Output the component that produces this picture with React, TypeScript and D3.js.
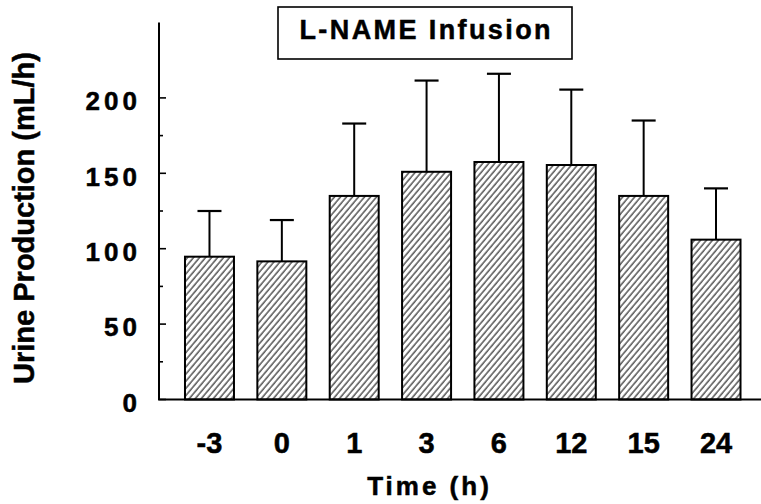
import React, { useEffect, useRef } from 'react';
import * as d3 from 'd3';

// time points (h) and mean urine production (mL/h) with upper error
const timeLabels = ['-3', '0', '1', '3', '6', '12', '15', '24'];
const meanValues = [94.7, 91.6, 135, 151, 157.5, 155.5, 135, 106];
const errorTops = [125, 119, 183, 211.5, 216, 205.5, 185, 140];
const majorTicks = [0, 50, 100, 150, 200];
const minorTicks = [25, 75, 125, 175];

const FONT = '"Liberation Sans", Arial, Helvetica, sans-serif';

const App: React.FC = () => {
  const svgRef = useRef<SVGSVGElement>(null);

  useEffect(() => {
    if (!svgRef.current) return;

    const width = 761;
    const height = 504;
    const axisX = 159;

    const svg = d3.select(svgRef.current)
      .attr('width', width)
      .attr('height', height)
      .html('');

    svg.append('rect').attr('width', width).attr('height', height).attr('fill', '#fff');

    // hatch pattern
    const defs = svg.append('defs');
    const pat = defs.append('pattern')
      .attr('id', 'hatch')
      .attr('patternUnits', 'userSpaceOnUse')
      .attr('width', 4.6)
      .attr('height', 4.6)
      .attr('patternTransform', 'rotate(40)');
    pat.append('rect').attr('width', 4.6).attr('height', 4.6).attr('fill', '#fff');
    pat.append('line')
      .attr('x1', 1).attr('y1', 0).attr('x2', 1).attr('y2', 4.6)
      .attr('stroke', '#000').attr('stroke-width', 1);

    const y = d3.scaleLinear().domain([0, 250]).range([399.5, 22.5]);
    const x = d3.scaleBand<string>()
      .domain(timeLabels)
      .range([173.3, 752.2])
      .paddingInner(0.323)
      .paddingOuter(0.1615);

    const data = timeLabels.map((t, i) => ({ t, v: meanValues[i], e: errorTops[i] }));

    // error bars
    const capW = 24;
    data.forEach(d => {
      const cx = x(d.t)! + x.bandwidth() / 2;
      svg.append('line')
        .attr('x1', cx).attr('x2', cx)
        .attr('y1', y(d.v)).attr('y2', y(d.e))
        .attr('stroke', '#000').attr('stroke-width', 2);
      svg.append('line')
        .attr('x1', cx - capW / 2).attr('x2', cx + capW / 2)
        .attr('y1', y(d.e)).attr('y2', y(d.e))
        .attr('stroke', '#000').attr('stroke-width', 2.2);
    });

    // bars
    svg.selectAll('.bar')
      .data(data)
      .enter()
      .append('rect')
      .attr('class', 'bar')
      .attr('x', d => x(d.t)!)
      .attr('y', d => y(d.v))
      .attr('width', x.bandwidth())
      .attr('height', d => y(0) - y(d.v))
      .attr('fill', 'url(#hatch)')
      .attr('stroke', '#000')
      .attr('stroke-width', 2);

    // axes lines
    svg.append('line')
      .attr('x1', axisX).attr('x2', axisX)
      .attr('y1', y(250)).attr('y2', y(0))
      .attr('stroke', '#000').attr('stroke-width', 2);
    svg.append('line')
      .attr('x1', axisX - 1).attr('x2', width)
      .attr('y1', y(0)).attr('y2', y(0))
      .attr('stroke', '#000').attr('stroke-width', 2);

    // y ticks (inward)
    majorTicks.forEach(v => {
      svg.append('line')
        .attr('x1', axisX).attr('x2', axisX + 7)
        .attr('y1', y(v)).attr('y2', y(v))
        .attr('stroke', '#000').attr('stroke-width', 1.6);
    });
    minorTicks.forEach(v => {
      svg.append('line')
        .attr('x1', axisX).attr('x2', axisX + 4)
        .attr('y1', y(v)).attr('y2', y(v))
        .attr('stroke', '#000').attr('stroke-width', 1.6);
    });

    const bold = (sel: d3.Selection<SVGTextElement, any, any, any>, size: number) =>
      sel.attr('font-family', FONT)
        .attr('font-weight', 'bold')
        .attr('font-size', size)
        .attr('fill', '#000')
        .attr('stroke', '#000')
        .attr('stroke-width', 0.5);

    // y tick labels
    const ySpacing = 4;
    svg.selectAll('.ylab')
      .data(majorTicks)
      .enter()
      .append('text')
      .attr('class', 'ylab')
      .attr('x', 137 + ySpacing)
      .attr('y', d => y(d) + 3)
      .attr('dy', '0.36em')
      .attr('text-anchor', 'end')
      .attr('letter-spacing', ySpacing)
      .call(s => bold(s as any, 26))
      .text(d => String(d));

    // x tick labels
    svg.selectAll('.xlab')
      .data(timeLabels)
      .enter()
      .append('text')
      .attr('class', 'xlab')
      .attr('x', d => x(d)! + x.bandwidth() / 2)
      .attr('y', 453)
      .attr('text-anchor', 'middle')
      .call(s => bold(s as any, 29))
      .text(d => d);

    // axis titles
    svg.append('text')
      .attr('x', 428 + 1.5)
      .attr('y', 495)
      .attr('text-anchor', 'middle')
      .attr('letter-spacing', 3)
      .call(s => bold(s as any, 26))
      .text('Time (h)');

    svg.append('text')
      .attr('transform', `translate(34, 218) rotate(-90)`)
      .attr('text-anchor', 'middle')
      .call(s => bold(s as any, 29))
      .text('Urine Production (mL/h)');

    // title box
    svg.append('rect')
      .attr('x', 278).attr('y', 7)
      .attr('width', 294).attr('height', 52)
      .attr('fill', '#fff')
      .attr('stroke', '#000')
      .attr('stroke-width', 1.6);
    svg.append('text')
      .attr('x', 425 + 1.2)
      .attr('y', 39)
      .attr('text-anchor', 'middle')
      .attr('letter-spacing', 2.4)
      .call(s => bold(s as any, 27))
      .text('L-NAME Infusion');
  }, []);

  return (
    <div style={{ position: 'fixed', left: 0, top: 0 }}>
      <svg ref={svgRef} style={{ display: 'block' }} />
    </div>
  );
};

export default App;
